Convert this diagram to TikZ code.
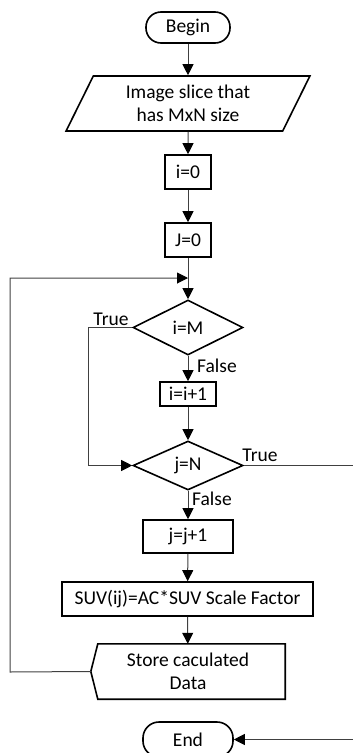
\documentclass[tikz,border=0pt]{standalone}
\usepackage{fontspec}
\setmainfont{Carlito}
\usetikzlibrary{shapes.geometric,arrows.meta}

\begin{document}
\begin{tikzpicture}[x=1pt,y=-1pt,
  every node/.style={font=\fontsize{19.5}{23}\selectfont, inner sep=0pt, align=center},
  shapeline/.style={draw=black, line width=1.6pt},
  box/.style={shapeline, rectangle, minimum height=34pt},
  term/.style={shapeline, rectangle, rounded corners=15pt, minimum height=31pt},
  io/.style={shapeline, trapezium, trapezium left angle=64, trapezium right angle=116,
             trapezium stretches=true},
  dec/.style={shapeline, diamond, minimum width=110pt, minimum height=55pt},
  link/.style={line width=1pt, draw=black!75},
  flow/.style={link, -{Triangle[length=11pt,width=11pt,color=black]}},
  lbl/.style={anchor=center}
]
\useasboundingbox (0,0) rectangle (353,753);

% process nodes
\node[term, minimum width=84pt] (begin) at (188,27.5) {Begin};
\node[io, minimum width=244pt, minimum height=55pt] (input) at (188,103.5) {Image slice that\\has MxN size};
\node[box, minimum width=46pt] (i0) at (188,172) {i=0};
\node[box, minimum width=46pt] (j0) at (188,240) {J=0};
\coordinate (merge) at (188,278);
\node[dec] (im) at (188,327.5) {i=M};
\node[box, minimum width=56pt, minimum height=24pt] (iinc) at (188,394) {i=i+1};
\node[dec, minimum height=49pt] (jn) at (188,465.5) {j=N};
\node[box, minimum width=90pt, minimum height=33pt] (jinc) at (188,536.5) {j=j+1};
\node[box, minimum width=251pt] (suv) at (187.5,599) {SUV(ij)=AC*SUV Scale Factor};
\node[minimum width=194pt, minimum height=55pt] (store) at (188,671.5) {Store caculated\\Data};
\draw[shapeline] ([xshift=7pt]store.north west) -- (store.north east) -- (store.south east)
  -- ([xshift=7pt]store.south west) -- (store.west) -- cycle;
\node[term, rounded corners=16pt, minimum width=90pt, minimum height=35pt] (end) at (188,739.5) {End};

% branch labels
\node[lbl] (imtrue) at (111,319) {True};
\node[lbl] (imfalse) at (217,366) {False};
\node[lbl] (jntrue) at (260,455) {True};
\node[lbl] (jnfalse) at (212,499) {False};

% routing points
\coordinate (loopx) at (10,672);
\coordinate (truex) at (88,327.5);
\coordinate (jnexit) at (353,465.5);
\coordinate (endin) at (353,739.5);

% connectors
\draw[flow] (begin) -- (input);
\draw[flow] (input) -- (i0);
\draw[flow] (i0) -- (j0);
\draw[flow] (j0) -- (im);
\draw[flow] (store.west) -- (loopx) |- (merge);
\draw[flow] (im) -- (iinc);
\draw[flow] (im.west) -- (truex) |- (jn.west);
\draw[flow] (iinc) -- (jn);
\draw[link] (jn.east) -- (jnexit);
\draw[flow] (jn) -- (jinc);
\draw[flow] (jinc) -- (suv);
\draw[flow] (suv) -- (store);
\draw[flow] (endin) -- (end);
\end{tikzpicture}
\end{document}
